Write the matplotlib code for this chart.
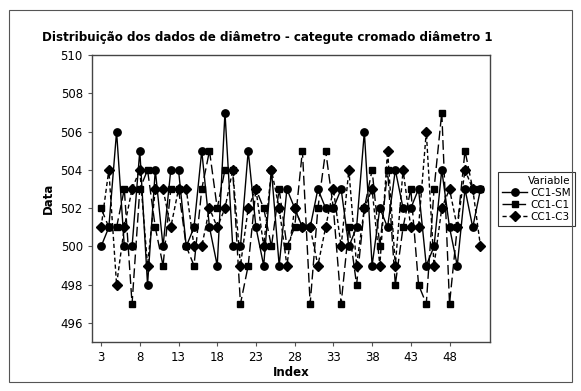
import numpy as np
import matplotlib
matplotlib.use('Agg')
import matplotlib.pyplot as plt
from matplotlib.patches import Rectangle

# Index 3..52
index = np.arange(3, 53)

cc1_sm = [500, 501, 506, 500, 500, 505, 498, 504, 500, 504,
          504, 500, 501, 505, 501, 499, 507, 500, 500, 505,
          501, 499, 504, 499, 503, 502, 501, 501, 503, 502,
          502, 503, 500, 501, 506, 499, 502, 501, 504, 502,
          502, 503, 499, 500, 504, 501, 499, 503, 501, 503]

cc1_c1 = [502, 501, 501, 503, 497, 503, 504, 501, 499, 503,
          503, 500, 499, 503, 505, 502, 504, 504, 497, 499,
          503, 502, 500, 503, 500, 501, 505, 497, 502, 505,
          502, 497, 501, 498, 502, 504, 500, 504, 498, 501,
          503, 498, 497, 503, 507, 497, 501, 505, 503, 503]

cc1_c3 = [501, 504, 498, 501, 503, 504, 499, 503, 503, 501,
          503, 503, 500, 500, 502, 501, 502, 504, 499, 502,
          503, 500, 504, 502, 499, 502, 501, 501, 499, 501,
          503, 500, 504, 499, 502, 503, 499, 505, 499, 504,
          501, 501, 506, 499, 502, 503, 501, 504, 503, 500]

xticks = [3, 8, 13, 18, 23, 28, 33, 38, 43, 48]
yticks = [496, 498, 500, 502, 504, 506, 508, 510]

plt.rcParams['font.family'] = 'DejaVu Sans'

fig = plt.figure(figsize=(5.81, 3.91), dpi=100)
ax = fig.add_axes([0.158, 0.125, 0.685, 0.734])

ax.plot(index, cc1_sm, color='black', lw=1, marker='o', ms=5.3,
        linestyle='-', label='CC1-SM')
ax.plot(index, cc1_c1, color='black', lw=1, marker='s', ms=4.8,
        linestyle=(0, (7, 3)), label='CC1-C1')
ax.plot(index, cc1_c3, color='black', lw=1, marker='D', ms=4.6,
        linestyle=(0, (3, 2)), label='CC1-C3')

ax.set_xlim(1.8, 53.2)
ax.set_ylim(495, 510)
ax.set_xticks(xticks)
ax.set_yticks(yticks)
ax.tick_params(labelsize=8.5, length=3, color='#555555')
for s in ax.spines.values():
    s.set_color('#444444')
    s.set_linewidth(1)

ax.set_xlabel('Index', fontsize=8.5, fontweight='bold', labelpad=1)
ax.set_ylabel('Data', fontsize=8.5, fontweight='bold', labelpad=4)

fig.text(0.46, 0.905, 'Distribuição dos dados de diâmetro - categute cromado diâmetro 1',
         ha='center', va='center', fontsize=8.6, fontweight='bold')

leg = ax.legend(loc='upper left', bbox_to_anchor=(0.858, 0.56),
                bbox_transform=fig.transFigure, title='Variable',
                fontsize=7.5, title_fontsize=7.5, frameon=True, fancybox=False,
                edgecolor='black', handlelength=2.4, borderpad=0.35,
                labelspacing=0.2, handletextpad=0.3, borderaxespad=0)
leg.get_frame().set_linewidth(0.8)
leg._legend_box.align = 'right'

fig.patches.append(Rectangle((9 / 581, 9 / 391), 563 / 581, 372 / 391,
                             transform=fig.transFigure, fill=False,
                             edgecolor='#555555', lw=0.8))

fig.savefig('out.png', dpi=100)
